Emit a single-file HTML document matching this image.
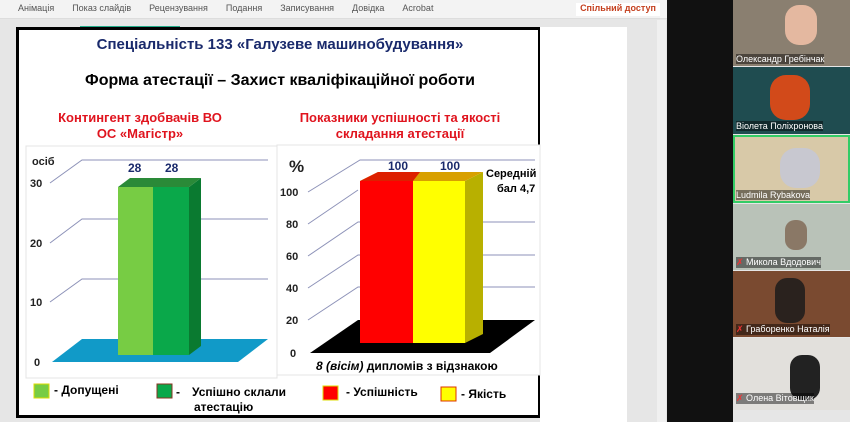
<!DOCTYPE html>
<html><head><meta charset="utf-8"><style>
body{margin:0;width:850px;height:422px;overflow:hidden;background:#e6e6e6;font-family:"Liberation Sans",sans-serif;position:relative}
.a{position:absolute}
.t{font-weight:bold;white-space:nowrap}
</style></head><body>
<div class="a" style="left:0;top:0;width:667px;height:18px;background:#f3f3f3;border-bottom:1px solid #ddd"></div>
<div class="a" style="left:0;top:3px;font-size:9px;color:#555;white-space:nowrap">
<span style="margin-left:18px">Анімація</span><span style="margin-left:18px">Показ слайдів</span><span style="margin-left:18px">Рецензування</span><span style="margin-left:18px">Подання</span><span style="margin-left:18px">Записування</span><span style="margin-left:18px">Довідка</span><span style="margin-left:18px">Acrobat</span></div>
<div class="a" style="left:576px;top:3px;width:84px;height:13px;background:#fff;font-size:9px;color:#c43e1c;font-weight:bold;text-align:center">Спільний доступ</div>
<div class="a" style="left:80px;top:26px;width:100px;height:2px;background:#2a8"></div>
<div class="a" style="left:540px;top:27px;width:87px;height:395px;background:#fff"></div>
<div class="a" style="left:657px;top:20px;width:9px;height:402px;background:#f0f0f0"></div>
<div class="a" style="left:667px;top:0;width:66px;height:422px;background:#111"></div>
<!-- video tiles -->
<div class="a" style="left:733px;top:0;width:117px;height:66px;background:#8a7f70"></div>
<div class="a" style="left:733px;top:67px;width:117px;height:67px;background:#1f4c50"></div>
<div class="a" style="left:733px;top:135px;width:117px;height:68px;background:#d8c9a8;border:2px solid #3c6;box-sizing:border-box"></div>
<div class="a" style="left:733px;top:204px;width:117px;height:66px;background:#b9c2b8"></div>
<div class="a" style="left:733px;top:271px;width:117px;height:66px;background:#7a4a30"></div>
<div class="a" style="left:733px;top:338px;width:117px;height:72px;background:#e2e0dc"></div>
<div class="a" style="left:790px;top:355px;width:30px;height:45px;border-radius:12px;background:#222"></div>
<div class="a" style="left:785px;top:5px;width:32px;height:40px;border-radius:14px;background:#e4b8a0"></div>
<div class="a" style="left:770px;top:75px;width:40px;height:45px;border-radius:16px;background:#d24a1a"></div>
<div class="a" style="left:780px;top:148px;width:40px;height:40px;border-radius:16px;background:#c8c8d0"></div>
<div class="a" style="left:785px;top:220px;width:22px;height:30px;border-radius:10px;background:#8a7866"></div>
<div class="a" style="left:775px;top:278px;width:30px;height:45px;border-radius:12px;background:#2a221e"></div>
<div class="a" style="font-size:9px;color:#fff;white-space:nowrap;left:736px;top:54px;background:rgba(0,0,0,.45)">Олександр Гребінчак</div>
<div class="a" style="font-size:9px;color:#fff;white-space:nowrap;left:736px;top:121px;background:rgba(0,0,0,.45)">Віолета Поліхронова</div>
<div class="a" style="font-size:9px;color:#fff;white-space:nowrap;left:736px;top:190px;background:rgba(0,0,0,.45)">Ludmila Rybakova</div>
<div class="a" style="font-size:9px;color:#fff;white-space:nowrap;left:736px;top:257px;background:rgba(0,0,0,.45)"><span style="color:#e33">✗</span> Микола Вдодович</div>
<div class="a" style="font-size:9px;color:#fff;white-space:nowrap;left:736px;top:324px;background:rgba(0,0,0,.45)"><span style="color:#e33">✗</span> Граборенко Наталія</div>
<div class="a" style="font-size:9px;color:#fff;white-space:nowrap;left:736px;top:393px;background:rgba(0,0,0,.45)"><span style="color:#e33">✗</span> Олена Вітовщик</div>
<!-- slide -->
<div class="a" style="left:16px;top:27px;width:524px;height:391px;background:#fff;border:3px solid #000;border-right-width:2px;box-sizing:border-box"></div>
<div class="a t" style="left:20px;top:36px;width:520px;text-align:center;font-size:15px;color:#1a2a6c">Спеціальність 133 «Галузеве машинобудування»</div>
<div class="a t" style="left:20px;top:72px;width:520px;text-align:center;font-size:16px;color:#000">Форма атестації – Захист кваліфікаційної роботи</div>
<div class="a t" style="left:40px;top:110px;width:200px;text-align:center;font-size:13px;color:#e0141e;line-height:16px">Контингент здобвачів ВО<br>ОС «Магістр»</div>
<div class="a t" style="left:290px;top:110px;width:220px;text-align:center;font-size:13px;color:#e0141e;line-height:16px">Показники успішності та якості<br>складання атестації</div>
<svg class="a" style="left:0;top:0" width="850" height="422">
<rect x="26" y="146" width="251" height="232" fill="#fff" stroke="#e4e4e4"/>
<rect x="277" y="145" width="263" height="230" fill="#fff" stroke="#e4e4e4"/>
<g stroke="#8d92b8" stroke-width="1" fill="none">
<path d="M50 183 L82 160 H268 M50 243 L82 219 H268 M50 302 L82 279 H268"/>
<path d="M308 192 L360 160 H535 M308 224 L358 190 M308 256 L358 222 H535 M308 288 L358 255 H535 M308 320 L358 287 H535"/>
</g>
<polygon points="52,362 238,362 268,339 82,339" fill="#119ac8"/>
<rect x="118" y="187" width="35" height="168" fill="#77cc44"/>
<rect x="153" y="187" width="36" height="168" fill="#0aa84a"/>
<polygon points="189,187 201,178 201,346 189,355" fill="#0a7a30"/>
<polygon points="118,187 130,178 201,178 189,187" fill="#2a8a38"/>
<polygon points="310,353 490,353 535,320 358,320" fill="#000"/>
<rect x="360" y="181" width="53" height="162" fill="#ff0000"/>
<rect x="413" y="181" width="52" height="162" fill="#ffff00"/>
<polygon points="465,181 483,172 483,334 465,343" fill="#b8b000"/>
<polygon points="360,181 378,172 483,172 465,181" fill="#d8a000"/>
<polygon points="360,181 378,172 420,172 413,181" fill="#dd2000"/>
<g font-family="Liberation Sans" font-weight="bold" font-size="11" fill="#222">
<text x="32" y="165">осіб</text><text x="30" y="187">30</text><text x="30" y="247">20</text><text x="30" y="306">10</text><text x="34" y="366">0</text>
<text x="289" y="172" font-size="17">%</text>
<text x="280" y="196">100</text><text x="286" y="228">80</text><text x="286" y="260">60</text><text x="286" y="292">40</text><text x="286" y="324">20</text><text x="290" y="357">0</text>
<text x="128" y="172" font-size="12" fill="#1a2a6c">28</text><text x="165" y="172" font-size="12" fill="#1a2a6c">28</text>
<text x="388" y="170" font-size="12" fill="#1a2a6c">100</text><text x="440" y="170" font-size="12" fill="#1a2a6c">100</text>
<text x="486" y="177" font-size="11" fill="#000">Середній</text><text x="497" y="192" font-size="11" fill="#000">бал 4,7</text>
<text x="316" y="370" font-size="12" fill="#000"><tspan font-style="italic">8 (вісім)</tspan> дипломів з відзнакою</text>
</g>
<rect x="34" y="384" width="15" height="14" fill="#77cc44" stroke="#dddd00"/>
<rect x="157" y="384" width="15" height="14" fill="#0aa84a" stroke="#883322"/>
<rect x="323" y="386" width="15" height="14" fill="#ff0000" stroke="#dddd00"/>
<rect x="441" y="387" width="15" height="14" fill="#ffff00" stroke="#dd3300"/>
<g font-family="Liberation Sans" font-weight="bold" font-size="12" fill="#000">
<text x="54" y="394">- Допущені</text>
<text x="176" y="396">-</text><text x="192" y="396">Успішно склали</text><text x="194" y="411">атестацію</text>
<text x="346" y="396">- Успішність</text>
<text x="461" y="398">- Якість</text>
</g>
</svg>
</body></html>
